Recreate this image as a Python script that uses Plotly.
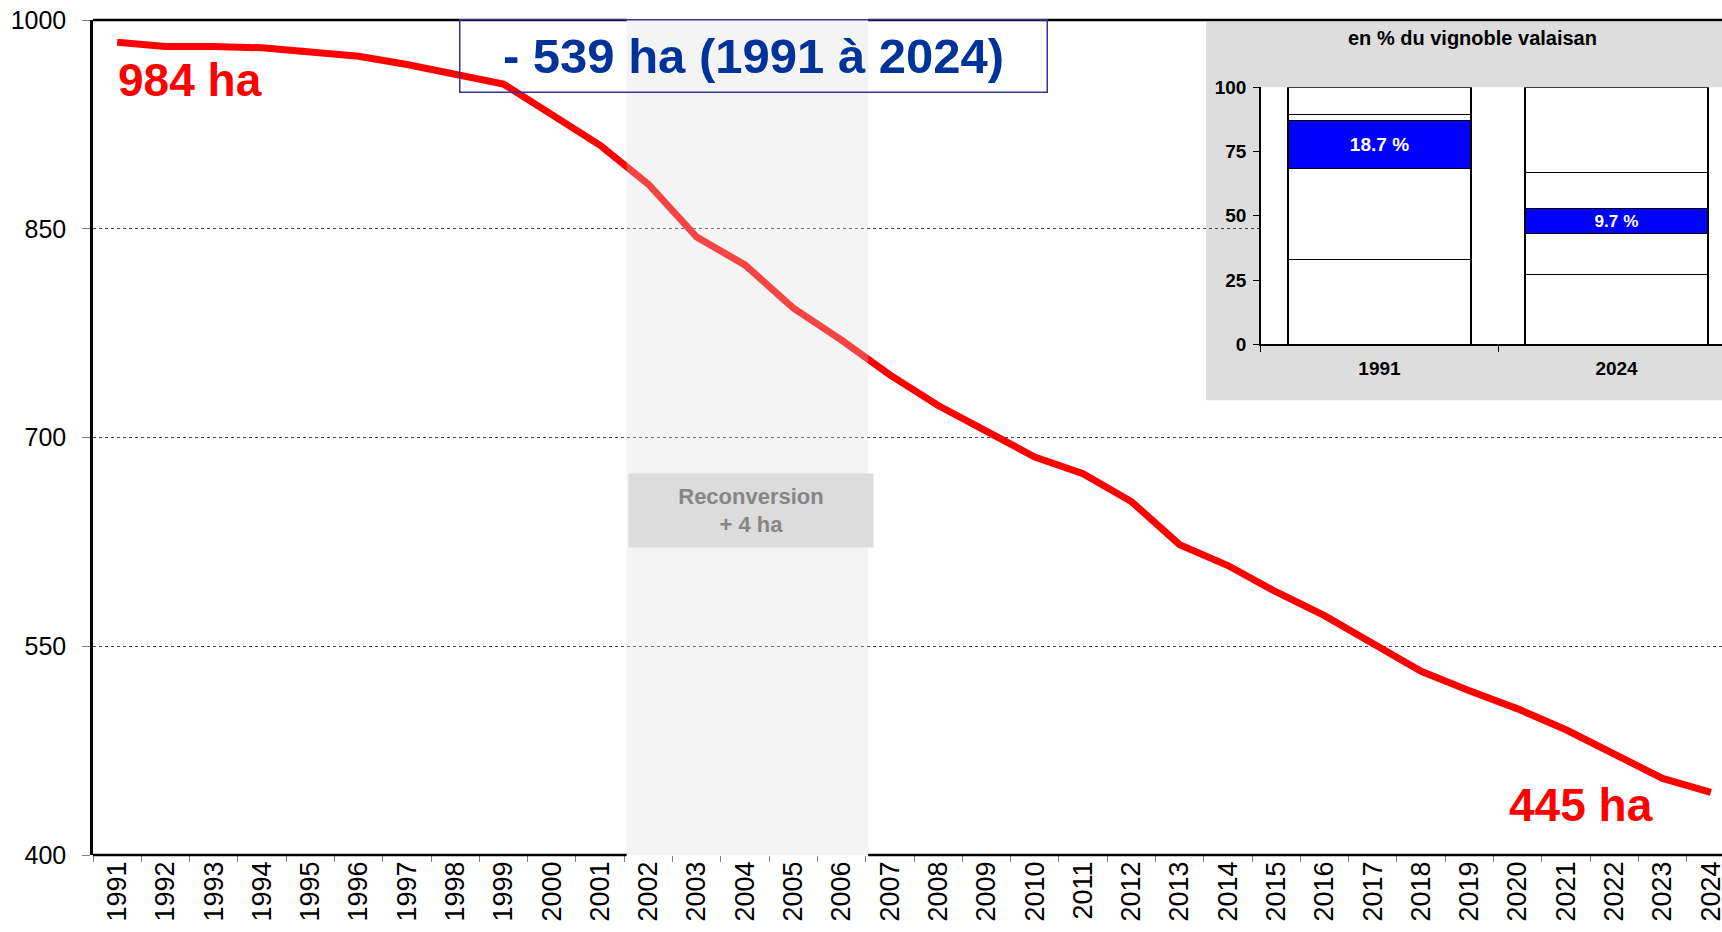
import plotly.graph_objects as go

# surface viticole (ha) par année
years = [str(y) for y in range(1991, 2025)]
surface_ha = [984, 981, 981, 980, 977, 974, 968, 961, 954, 932,
              910, 882, 844, 824, 793, 770, 745, 723, 705, 686,
              674, 654, 623, 608, 589, 572, 552, 532, 518, 505,
              490, 472, 455, 445]

# encart : part en % du vignoble valaisan (segments empilés)
inset_years = ['1991', '2024']
seg_1991 = [33.1, 35.4, 18.7, 2.2, 10.6]
seg_2024 = [27.1, 16.1, 9.7, 14.0, 33.1]
seg_colors = ['white', 'white', '#0000ff', 'white', 'white']
seg_labels = [None, None, ['18.7 %', '9.7 %'], None, None]

y_ticks = [400, 550, 700, 850, 1000]
inset_ticks = [0, 25, 50, 75, 100]

FONT = 'Liberation Sans, Arial, sans-serif'

fig = go.Figure()

# courbe principale
fig.add_trace(go.Scatter(
    x=years, y=surface_ha,
    mode='lines',
    line=dict(color='#ff0000', width=7),
    hoverinfo='skip',
    showlegend=False,
))

# barres empilées de l'encart
for i in range(len(seg_1991)):
    fig.add_trace(go.Bar(
        x=inset_years,
        y=[seg_1991[i], seg_2024[i]],
        xaxis='x2', yaxis='y2',
        marker=dict(color=seg_colors[i], line=dict(color='black', width=1.2)),
        text=seg_labels[i],
        textposition='inside',
        insidetextanchor='middle',
        textfont=dict(family=FONT, size=19, color='white', weight='bold'),
        hoverinfo='skip',
        showlegend=False,
    ))

shapes = [
    # fond gris de l'encart
    dict(type='rect', xref='x2 domain', yref='y2 domain',
         x0=-0.119, x1=1.0, y0=-0.218, y1=1.255,
         fillcolor='#dddddd', line=dict(width=0), layer='below'),
    # zone reconversion 2002-2006
    dict(type='rect', xref='x', yref='paper', x0=10.55, x1=15.55, y0=0, y1=1,
         fillcolor='rgba(219,219,219,0.31)', line=dict(width=0), layer='above'),
]
# bordure haute et axe bas, interrompus par la zone grise
for yv in [0, 1]:
    shapes.append(dict(type='line', xref='x', yref='paper', x0=-0.5, x1=10.55,
                       y0=yv, y1=yv, line=dict(color='black', width=2.5)))
    shapes.append(dict(type='line', xref='x', yref='paper', x0=15.55, x1=34,
                       y0=yv, y1=yv, line=dict(color='black', width=2.5)))

center = dict(xref='paper', yref='paper', showarrow=False,
              xanchor='center', yanchor='middle')
annotations = [
    dict(text='- 539 ha (1991 à 2024)', x=0.4054, y=0.9563,
         width=586, height=71,
         bordercolor='#333399', borderwidth=1.5, borderpad=0,
         font=dict(family=FONT, size=49, color='#003399', weight='bold'),
         **center),
    dict(text='984 ha', x=0.0595, y=0.928,
         font=dict(family=FONT, size=46, color='#ff0000', weight='bold'),
         **center),
    dict(text='445 ha', x=0.9134, y=0.06,
         font=dict(family=FONT, size=46, color='#ff0000', weight='bold'),
         **center),
    dict(text='Reconversion<br>+ 4 ha', x=0.404, y=0.412,
         width=244, height=73, bgcolor='#dcdcdc', borderpad=0,
         font=dict(family=FONT, size=22, color='#868686', weight='bold'),
         **center),
    dict(text='en % du vignoble valaisan', x=0.847, y=0.978,
         font=dict(family=FONT, size=20, color='black', weight='bold'),
         **center),
]

fig.update_layout(
    width=1722, height=932,
    margin=dict(l=93, r=0, t=20, b=77),
    paper_bgcolor='white',
    plot_bgcolor='white',
    barmode='stack',
    bargap=0.228,
    showlegend=False,
    font=dict(family=FONT, color='black'),
    shapes=shapes,
    annotations=annotations,
    xaxis=dict(
        type='category',
        range=[-0.5, 33.23],
        tickson='boundaries',
        ticks='outside', ticklen=6, tickcolor='#808080', tickwidth=1,
        tickangle=-90,
        tickfont=dict(family=FONT, size=27, color='black'),
        ticklabeloverflow='allow',
        showgrid=False, showline=False, zeroline=False,
        automargin=False,
    ),
    yaxis=dict(
        range=[400, 1000],
        tickvals=y_ticks,
        ticks='outside', ticklen=8, tickcolor='#808080', tickwidth=1,
        tickfont=dict(family=FONT, size=25, color='black'),
        ticklabelstandoff=11,
        ticklabeloverflow='allow',
        showgrid=True, gridcolor='#444444', gridwidth=1, griddash='dot',
        showline=True, linecolor='black', linewidth=2.5,
        zeroline=False, automargin=False,
    ),
    xaxis2=dict(
        type='category',
        domain=[0.717, 1.0],
        range=[-0.5, 1.445],
        anchor='y2',
        tickson='boundaries',
        ticks='outside', ticklen=6, tickcolor='black',
        tickfont=dict(family=FONT, size=19, color='black', weight='bold'),
        ticklabelstandoff=6,
        showline=True, linecolor='black', linewidth=1.5,
        showgrid=False, zeroline=False, automargin=False,
    ),
    yaxis2=dict(
        domain=[0.6116, 0.9194],
        range=[0, 100],
        anchor='x2',
        tickvals=inset_ticks,
        ticks='outside', ticklen=6, tickcolor='black',
        tickfont=dict(family=FONT, size=19, color='black', weight='bold'),
        ticklabelstandoff=3,
        showline=True, linecolor='black', linewidth=1.5,
        showgrid=False, zeroline=False, automargin=False,
    ),
)

# la page par défaut ajoute une marge de 8 px autour de la figure
fig.write_html('out.html',
               config={'displayModeBar': False},
               post_script="document.body.style.margin='0';"
                           "document.body.style.overflow='hidden';")
